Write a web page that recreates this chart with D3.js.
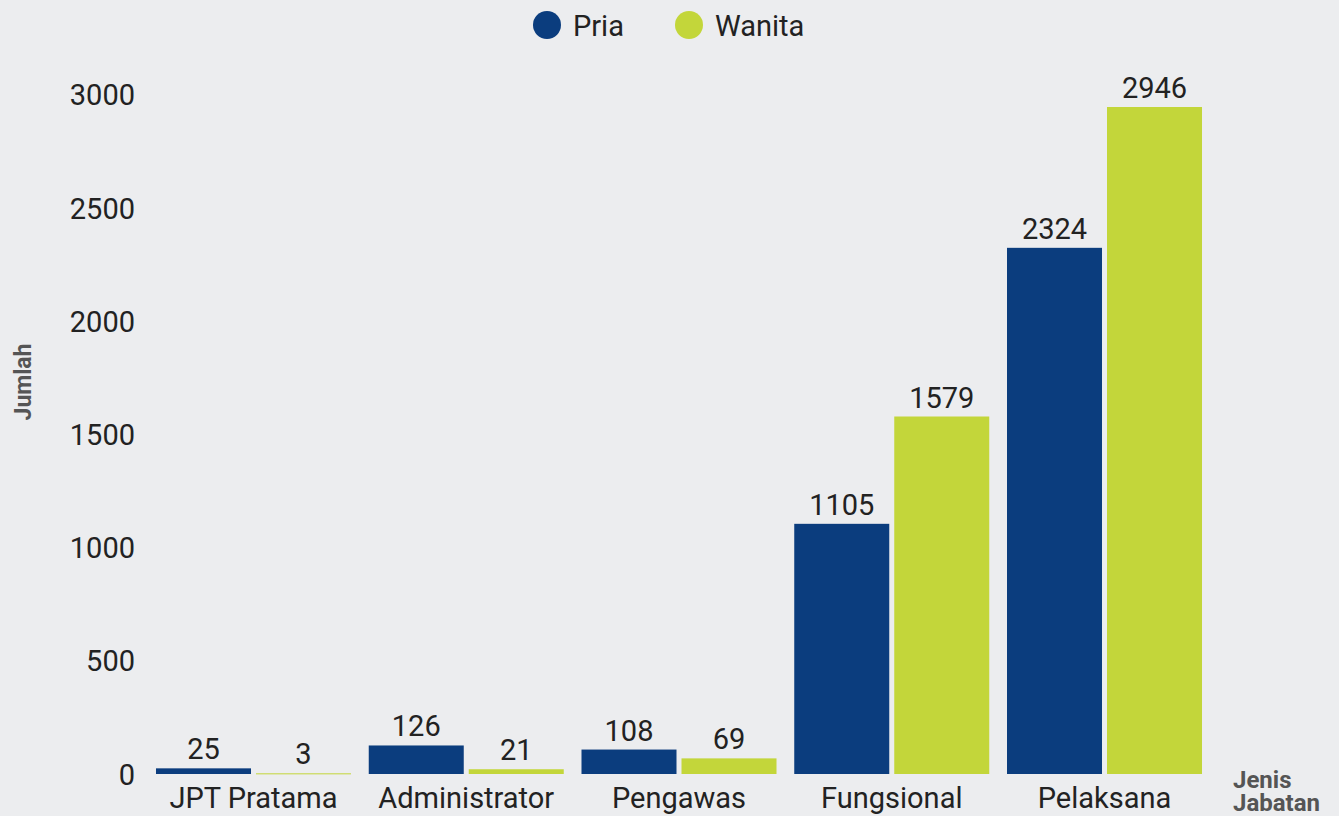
<!DOCTYPE html>
<html><head><meta charset="utf-8">
<script src="https://cdn.jsdelivr.net/npm/d3@7"></script>
<style>
html,body{margin:0;padding:0;background:#ECEDEF;}
svg{display:block;font-family:Roboto,"Noto Sans",sans-serif;}
</style></head>
<body>
<svg id="chart" width="1339" height="816"></svg>
<script>
const categories = ["JPT Pratama","Administrator","Pengawas","Fungsional","Pelaksana"];
const seriesNames = ["Pria","Wanita"];
const pria = [25,126,108,1105,2324];
const wanita = [3,21,69,1579,2946];
const yTicks = [0,500,1000,1500,2000,2500,3000];
const colors = ["#0B3D7E","#C3D63A"];

const svg = d3.select("#chart");
const W = 1339, H = 816;
svg.append("rect").attr("width",W).attr("height",H).attr("fill","#ECEDEF");

const y = d3.scaleLinear().domain([0,2946]).range([774,107]);
const x0 = d3.scaleBand().domain(categories).range([138.25,1219.75]).paddingInner(0.0834).paddingOuter(0.0834);
const x1 = d3.scaleBand().domain(seriesNames).range([0,x0.bandwidth()]).paddingInner(0.05);
const color = d3.scaleOrdinal().domain(seriesNames).range(colors);

const data = categories.map((c,i)=>({cat:c, vals:[{s:"Pria",v:pria[i]},{s:"Wanita",v:wanita[i]}]}));

// y axis
const yAxis = d3.axisLeft(y).tickValues(yTicks).tickSize(0).tickPadding(0).tickFormat(d3.format("d"));
const gy = svg.append("g").attr("transform","translate(135,0)").call(yAxis);
gy.select(".domain").remove();
gy.selectAll("text").attr("font-size",29).attr("fill","#222").attr("font-family","Roboto,sans-serif").attr("dy","0.35em");

// x axis
const xAxis = d3.axisBottom(x0).tickSize(0).tickPadding(0);
const gx = svg.append("g").attr("transform","translate(0,786)").call(xAxis);
gx.select(".domain").remove();
gx.selectAll("text").attr("font-size",29).attr("fill","#222").attr("font-family","Roboto,sans-serif").attr("dy","0.75em");

// bars
const g = svg.append("g").selectAll("g").data(data).join("g")
  .attr("transform",d=>`translate(${x0(d.cat)},0)`);
g.selectAll("rect").data(d=>d.vals).join("rect")
  .attr("x",d=>x1(d.s)).attr("width",x1.bandwidth())
  .attr("y",d=>y(d.v)).attr("height",d=>Math.max(1,y(0)-y(d.v)))
  .attr("fill",d=>color(d.s));
g.selectAll("text").data(d=>d.vals).join("text")
  .attr("x",d=>x1(d.s)+x1.bandwidth()/2).attr("y",d=>y(d.v)-9)
  .attr("text-anchor","middle").attr("font-size",29).attr("fill","#222")
  .text(d=>d.v);

// axis titles
svg.append("text").attr("transform","translate(31,382) rotate(-90)")
  .attr("text-anchor","middle").attr("font-size",23).attr("font-weight","bold").attr("fill","#555")
  .text("Jumlah");
svg.append("text").attr("x",1233).attr("y",788).attr("font-size",24).attr("font-weight","bold").attr("fill","#555").text("Jenis");
svg.append("text").attr("x",1233).attr("y",811).attr("font-size",24).attr("font-weight","bold").attr("fill","#555").text("Jabatan");

// legend
const leg = svg.append("g");
const legX = [547,689];
seriesNames.forEach((s,i)=>{
  leg.append("circle").attr("cx",legX[i]).attr("cy",25).attr("r",14).attr("fill",color(s));
  leg.append("text").attr("x",legX[i]+26).attr("y",26).attr("dy","0.35em").attr("font-size",29).attr("fill","#222").text(s);
});
</script>
</body></html>
